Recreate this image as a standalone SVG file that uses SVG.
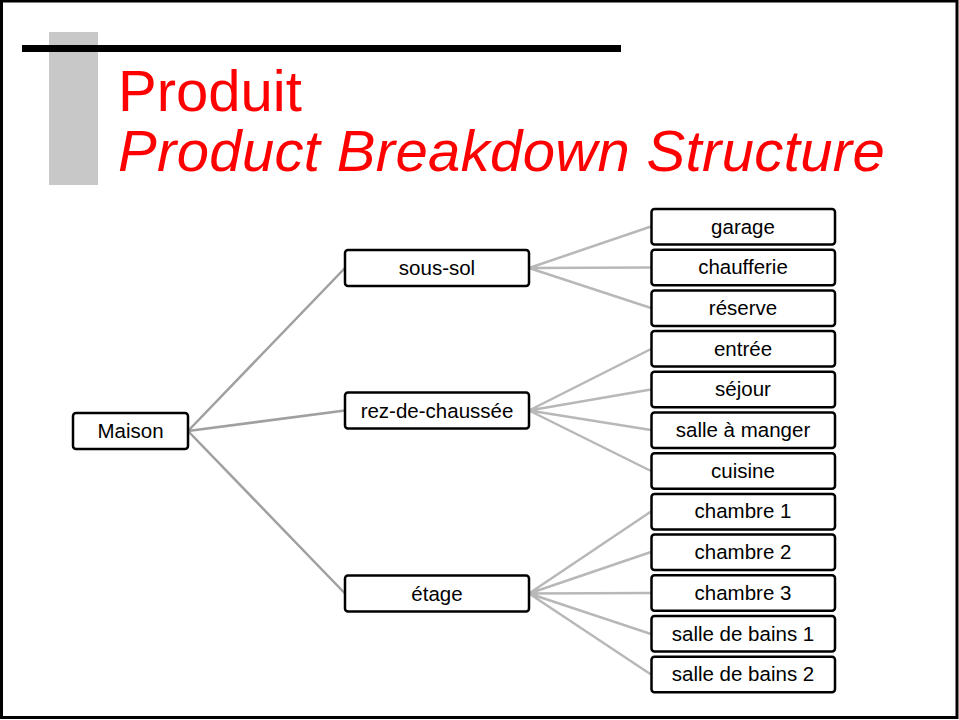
<svg xmlns="http://www.w3.org/2000/svg" width="959" height="720" viewBox="0 0 959 720">
<style>
.box{fill:#fff;stroke:#000;stroke-width:2.5}
.lbl{font-family:"Liberation Sans",Arial,sans-serif;font-size:20.5px;fill:#000;text-anchor:middle}
.c1{stroke:#a0a0a0;stroke-width:2.5;fill:none}
.c2{stroke:#b8b8b8;stroke-width:2.5;fill:none}
.title{font-family:"Liberation Sans",Arial,sans-serif;font-size:58px;fill:#ff0000}
</style>
<rect x="0" y="0" width="959" height="720" fill="#fff"/>
<rect x="1.5" y="1" width="955.5" height="716.5" fill="none" stroke="#000" stroke-width="3"/>
<g id="title">
<rect x="49" y="32" width="49" height="153" fill="#c8c8c8"/>
<rect x="22" y="45" width="599" height="7" fill="#000"/>
<text class="title" x="118" y="111">Produit</text>
<text class="title" x="118" y="171" font-style="italic" letter-spacing="0.35">Product Breakdown Structure</text>
</g>
<g id="connectors">
<path class="c1" d="M188 431 L345 268 M188 431 L345 410.5 M188 431 L345 593.5"/>
<path class="c2" d="M529 268 L651 226.5 M529 268 L651 267.5 M529 268 L651 308"/>
<path class="c2" d="M529 410.5 L651 349 M529 410.5 L651 389.5 M529 410.5 L651 430 M529 410.5 L651 471"/>
<path class="c2" d="M529 593.5 L651 511.5 M529 593.5 L651 552 M529 593.5 L651 593 M529 593.5 L651 634 M529 593.5 L651 674.5"/>
</g>
<g id="maison"><rect class="box" x="73" y="413" width="115" height="36" rx="3"/><text class="lbl" x="130.5" y="438">Maison</text></g>
<g id="sous-sol"><rect class="box" x="345" y="250" width="184" height="36" rx="3"/><text class="lbl" x="437" y="275">sous-sol</text></g>
<g id="rez-de-chaussee"><rect class="box" x="345" y="392.5" width="184" height="36" rx="3"/><text class="lbl" x="437" y="417.5">rez-de-chaussée</text></g>
<g id="etage"><rect class="box" x="345" y="575.5" width="184" height="36" rx="3"/><text class="lbl" x="437" y="600.5">étage</text></g>
<g id="garage"><rect class="box" x="651.5" y="209" width="183.5" height="35.5" rx="3"/><text class="lbl" x="743" y="233.5">garage</text></g>
<g id="chaufferie"><rect class="box" x="651.5" y="249.7" width="183.5" height="35.5" rx="3"/><text class="lbl" x="743" y="274.2">chaufferie</text></g>
<g id="reserve"><rect class="box" x="651.5" y="290.4" width="183.5" height="35.5" rx="3"/><text class="lbl" x="743" y="314.9">réserve</text></g>
<g id="entree"><rect class="box" x="651.5" y="331.1" width="183.5" height="35.5" rx="3"/><text class="lbl" x="743" y="355.6">entrée</text></g>
<g id="sejour"><rect class="box" x="651.5" y="371.8" width="183.5" height="35.5" rx="3"/><text class="lbl" x="743" y="396.3">séjour</text></g>
<g id="salle-a-manger"><rect class="box" x="651.5" y="412.5" width="183.5" height="35.5" rx="3"/><text class="lbl" x="743" y="437">salle à manger</text></g>
<g id="cuisine"><rect class="box" x="651.5" y="453.2" width="183.5" height="35.5" rx="3"/><text class="lbl" x="743" y="477.7">cuisine</text></g>
<g id="chambre1"><rect class="box" x="651.5" y="493.9" width="183.5" height="35.5" rx="3"/><text class="lbl" x="743" y="518.4">chambre 1</text></g>
<g id="chambre2"><rect class="box" x="651.5" y="534.6" width="183.5" height="35.5" rx="3"/><text class="lbl" x="743" y="559.1">chambre 2</text></g>
<g id="chambre3"><rect class="box" x="651.5" y="575.3" width="183.5" height="35.5" rx="3"/><text class="lbl" x="743" y="599.8">chambre 3</text></g>
<g id="sdb1"><rect class="box" x="651.5" y="616" width="183.5" height="35.5" rx="3"/><text class="lbl" x="743" y="640.5">salle de bains 1</text></g>
<g id="sdb2"><rect class="box" x="651.5" y="656.7" width="183.5" height="35.5" rx="3"/><text class="lbl" x="743" y="681.2">salle de bains 2</text></g>
</svg>
